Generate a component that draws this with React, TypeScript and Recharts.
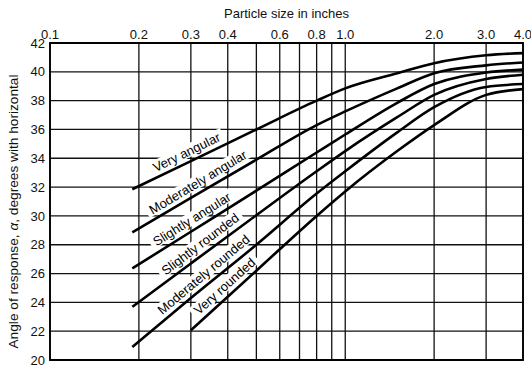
import {
  LineChart,
  Line,
  XAxis,
  YAxis,
  CartesianGrid,
  ReferenceArea,
  LabelList,
  Label,
} from 'recharts';

// particle size (in) on a log axis, angle of repose (deg)
const sizesFromFine = [0.19, 0.3, 0.5, 0.8, 1.0, 1.5, 2.0, 3.0, 4.0];
const sizesFromCoarse = [0.3, 0.5, 0.8, 1.0, 1.5, 2.0, 3.0, 4.0];

const veryAngular = [31.85, 33.8, 36.0, 38.0, 38.85, 39.9, 40.6, 41.15, 41.3];
const moderatelyAngular = [28.86, 31.25, 33.9, 36.3, 37.25, 38.85, 39.9, 40.45, 40.65];
const slightlyAngular = [26.36, 28.9, 31.75, 34.4, 35.65, 37.85, 39.15, 39.95, 40.15];
const slightlyRounded = [23.69, 26.7, 30.05, 33.1, 34.5, 36.85, 38.4, 39.5, 39.8];
const moderatelyRounded = [20.91, 24.3, 28.0, 31.55, 33.1, 35.8, 37.55, 38.95, 39.15];
const veryRounded = [22.07, 26.2, 30.0, 31.7, 34.5, 36.3, 38.4, 38.8];

const gridSizes = [0.1, 0.2, 0.3, 0.4, 0.5, 0.6, 0.7, 0.8, 0.9, 1, 2, 3, 4];
const unlabeledSizes = [0.5, 0.7, 0.9];
const angleTicks = [20, 22, 24, 26, 28, 30, 32, 34, 36, 38, 40, 42];

const curveNames = [
  'Very angular',
  'Moderately angular',
  'Slightly angular',
  'Slightly rounded',
  'Moderately rounded',
  'Very rounded',
];
// where each name sits on its curve
const labelSizes = [0.3, 0.33, 0.315, 0.338, 0.348, 0.411];
const labelAngles = [33.8, 31.75, 29.19, 27.5, 25.4, 24.62];
const labelTilt = [-26, -31, -32, -37, -40, -42];

const toPoints = (xs: number[], ys: number[]) => xs.map((x, i) => ({ x, y: ys[i] }));

const series = [
  toPoints(sizesFromFine, veryAngular),
  toPoints(sizesFromFine, moderatelyAngular),
  toPoints(sizesFromFine, slightlyAngular),
  toPoints(sizesFromFine, slightlyRounded),
  toPoints(sizesFromFine, moderatelyRounded),
  toPoints(sizesFromCoarse, veryRounded),
];

const labelPoints = curveNames.map((name, i) => ({
  x: labelSizes[i],
  y: labelAngles[i],
  name,
}));

const FONT = '"Liberation Sans", Arial, Helvetica, sans-serif';
const LABEL_SIZE = 13;

let measureCtx: CanvasRenderingContext2D | null = null;
const textWidth = (s: string) => {
  if (!measureCtx) {
    measureCtx = document.createElement('canvas').getContext('2d');
  }
  if (!measureCtx) return s.length * 6.5;
  measureCtx.font = `${LABEL_SIZE}px "Liberation Sans", Arial, sans-serif`;
  return measureCtx.measureText(s).width;
};

// curve name, lifted off its line, on a white patch that breaks the grid
const CurveLabel = ({ x, y, value, index }: any) => {
  const tilt = labelTilt[index];
  const w = textWidth(String(value));
  const lift = 10;
  return (
    <g transform={`rotate(${tilt} ${x} ${y})`}>
      <rect x={x - w / 2 - 4} y={y - lift - 7} width={w + 8} height={13} fill="#fff" />
      <text
        x={x}
        y={y - lift + 4.6}
        textAnchor="middle"
        fontFamily={FONT}
        fontSize={LABEL_SIZE}
        fill="#000"
      >
        {value}
      </text>
    </g>
  );
};

const AngleTitle = ({ viewBox }: any) => {
  const cx = viewBox.x + 14;
  const cy = viewBox.y + viewBox.height / 2 + 10;
  return (
    <text
      x={cx}
      y={cy}
      transform={`rotate(-90 ${cx} ${cy})`}
      textAnchor="middle"
      dominantBaseline="central"
      fontFamily={FONT}
      fontSize={12.6}
      textLength={274}
      lengthAdjust="spacingAndGlyphs"
      fill="#111"
    >
      Angle of response, <tspan fontStyle="italic">α</tspan>, degrees with horizontal
    </text>
  );
};

export default function App() {
  return (
    <div style={{ position: 'absolute', left: 0, top: 0, background: '#fff' }}>
      <LineChart
        width={531}
        height={366}
        margin={{ top: 0, right: 8, bottom: 6, left: 0 }}
      >
        <CartesianGrid stroke="#111" strokeWidth={1.3} />
        <XAxis
          dataKey="x"
          type="number"
          scale="log"
          domain={[0.1, 4]}
          allowDataOverflow
          orientation="top"
          height={43}
          ticks={gridSizes}
          interval={0}
          tickFormatter={(v: number) => (unlabeledSizes.includes(v) ? '' : v.toFixed(1))}
          axisLine={false}
          tickLine={false}
          tickSize={0}
          tickMargin={4}
          tick={{ fill: '#111', fontSize: 13, fontFamily: FONT }}
        >
          <Label
            value="Particle size in inches"
            position="insideTop"
            offset={9}
            style={{ fill: '#111', fontSize: 13, fontFamily: FONT }}
          />
        </XAxis>
        <YAxis
          type="number"
          domain={[20, 42]}
          ticks={angleTicks}
          interval={0}
          width={50}
          axisLine={false}
          tickLine={false}
          tickSize={0}
          tickMargin={5}
          tick={{ fill: '#111', fontSize: 13, fontFamily: FONT }}
        >
          <Label content={<AngleTitle />} />
        </YAxis>
        <ReferenceArea
          x1={0.1}
          x2={4}
          y1={20}
          y2={42}
          fill="none"
          stroke="#000"
          strokeWidth={1.8}
        />
        {series.map((points, i) => (
          <Line
            key={curveNames[i]}
            data={points}
            dataKey="y"
            type="monotone"
            stroke="#000"
            strokeWidth={2.6}
            dot={false}
            activeDot={false}
            isAnimationActive={false}
          />
        ))}
        <Line
          data={labelPoints}
          dataKey="y"
          stroke="none"
          dot={false}
          activeDot={false}
          legendType="none"
          isAnimationActive={false}
        >
          <LabelList dataKey="name" content={<CurveLabel />} />
        </Line>
      </LineChart>
    </div>
  );
}
